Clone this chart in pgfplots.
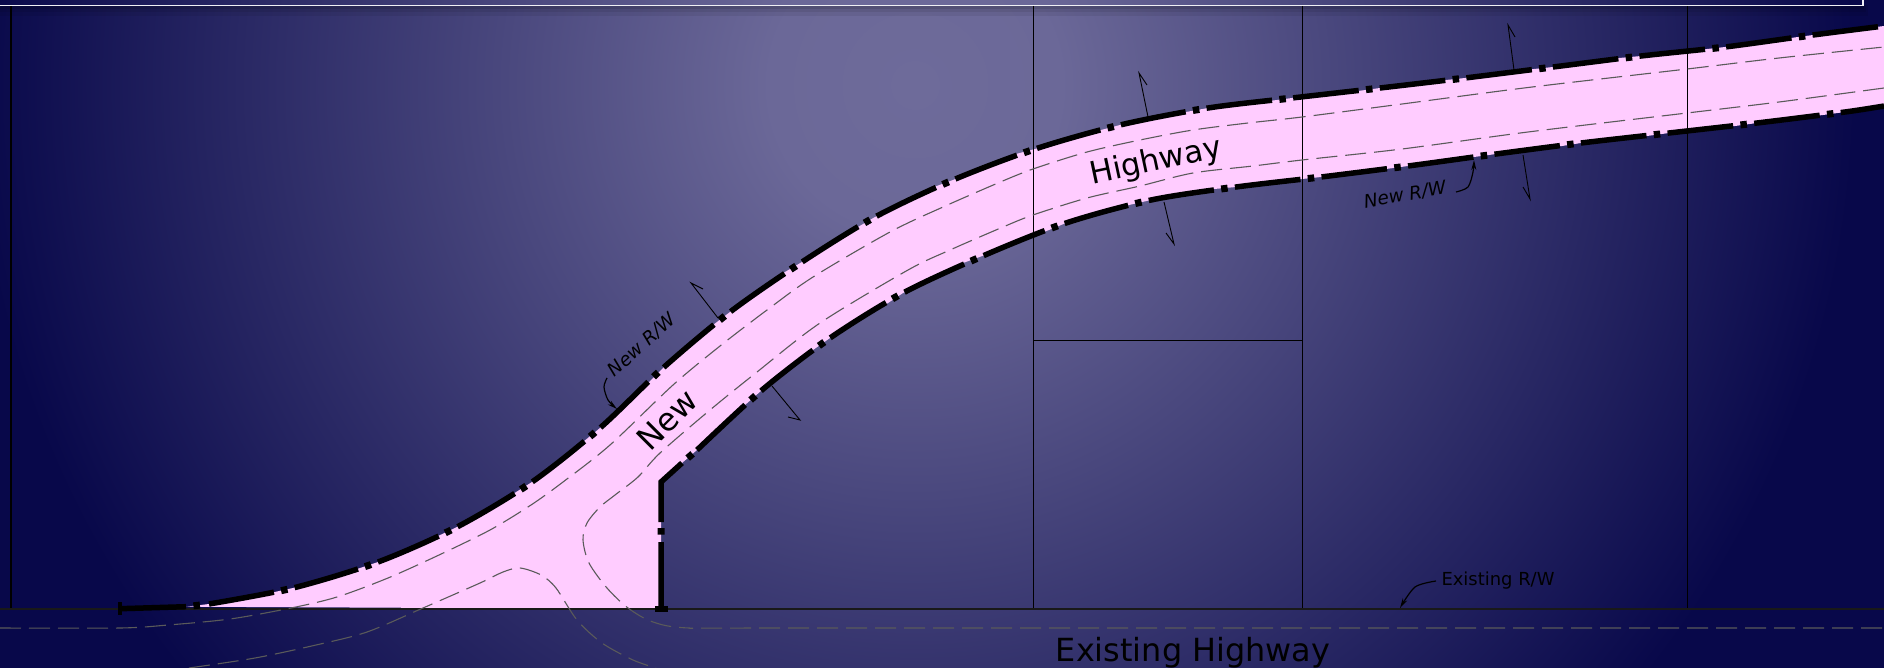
\documentclass[border=0pt]{standalone}
\usepackage{fontspec}
\setmainfont{DejaVu Sans}
\usepackage{pgfplots}
\usepackage{pgfplotstable}
\pgfplotsset{compat=1.18}
\usetikzlibrary{arrows.meta}

\definecolor{bgA}{HTML}{6E6B9A}
\definecolor{bgM}{HTML}{6B6898}
\definecolor{bgB}{HTML}{08084A}
\definecolor{road}{HTML}{FFCCFF}
\definecolor{cl}{HTML}{5A5A5A}
\pgfdeclareradialshading{bgrad}{\pgfpoint{0bp}{0bp}}{color(0bp)=(bgA); color(2.6bp)=(bgM); color(16.8bp)=(bgB); color(50bp)=(bgB)}

% upper and lower new R/W lines, pixel coordinates of the picture
\pgfplotstableread{
x y
209 604
293 588
378 562
457 527
532 482
600 428
663 368
730 312
802 262
875 217
953 180
1035 149
1120 125
1208 108
1292 98
1380 88
1465 78
1553 67
1641 56
1725 47
1813 35
1884 26
}\rwupper

\pgfplotstableread{
x y
697 450
762 390
830 338
903 293
985 255
1066 223
1151 200
1236 187
1321 177
1408 166
1496 154
1581 143
1669 133
1757 123
1845 112
1884 106
}\rwlower

% pieces of the R/W line outside the regular pattern
\pgfplotstableread{
x y
120 608.7
186 606.7
nan nan
661 609
661 542
nan nan
661 522
661 482
682 463
}\rwsolid

% gaps that hold one short block each
\pgfplotstableread{
x y
186 606.7
209 604
nan nan
661 542
661 522
nan nan
682 463
697 450
}\rwgap

\begin{document}
\begin{tikzpicture}
\useasboundingbox (0,0) rectangle (1884bp,668bp);
\begin{axis}[
    at={(0,0)},anchor=south west,
    scale only axis,width=1884bp,height=668bp,
    xmin=0,xmax=1884,ymin=0,ymax=668,y dir=reverse,
    axis lines=none,
    unbounded coords=jump,
    clip=true
]
\shade[shading=bgrad] (axis cs:915,85) circle[radius=1400bp];

% panel at the top and its shadow
\addplot[draw=none,fill=black,fill opacity=.07] coordinates {(0,5) (1868,5) (1868,16) (0,16)} -- cycle;
\addplot[draw=none,fill=black,fill opacity=.08] coordinates {(0,5) (1866,5) (1866,12) (0,12)} -- cycle;
\addplot[draw=none,fill=black,fill opacity=.10] coordinates {(0,5) (1864,5) (1864,9) (0,9)} -- cycle;
\addplot[white!90!bgA,line width=1.2bp] coordinates {(0,5.5) (1863,5.5) (1863,0)};

% road surface
\addplot[draw=none,fill=road] coordinates {
 (186,606.7) (209,604) (270,593) (293,588) (357,569) (378,562) (436,537) (457,527)
 (513,494) (532,482) (583,442) (600,428) (648,383) (663,368) (713,325) (730,312)
 (785,272) (802,262) (858,227) (875,217) (934,187) (953,180) (1016,154) (1035,149)
 (1101,130) (1120,125) (1186,112) (1208,108) (1277,100) (1292,98) (1358,91) (1380,88)
 (1446,80) (1465,78) (1534,69) (1553,67) (1619,58) (1641,56) (1707,49) (1725,47)
 (1798,37) (1813,35) (1884,26)
 (1884,106) (1845,112) (1823,115) (1757,123) (1735,126) (1669,133) (1647,136) (1581,143)
 (1562,146) (1496,154) (1474,157) (1408,166) (1386,169) (1321,177) (1302,179) (1236,187)
 (1214,189) (1151,200) (1129,205) (1066,223) (1044,232) (985,255) (963,263) (903,293)
 (888,303) (830,338) (813,350) (762,390) (745,405) (697,450) (682,463) (661,482) (661,609)
} -- cycle;

% lot lines
\addplot[black,line width=1.2bp] coordinates {(11,6) (11,609)};
\addplot[black,line width=1bp] coordinates {(1033,6) (1033,609)};
\addplot[black,line width=1bp] coordinates {(1302,6) (1302,609)};
\addplot[black,line width=1bp] coordinates {(1687,6) (1687,609)};
\addplot[black,line width=1bp] coordinates {(1033,340) (1302,340)};
\addplot[black!90,line width=1.6bp] coordinates {(0,609) (1884,609)};

% dashed edges of pavement
\tikzset{edge/.style={cl,line width=1.1bp,dash pattern=on 21bp off 8bp}}
\addplot[edge,smooth] coordinates {(0,628) (120,628) (168,625) (230,619) (291,608) (337,597) (388,578) (439,555) (490,530) (531,505) (563,482) (610,445) (673,385) (720,346) (767,310) (813,277) (890,232) (943,207) (998,183) (1033,169) (1087,152) (1140,140) (1193,130) (1248,123) (1302,117) (1402,104) (1528,87.5) (1687,69) (1779,58) (1884,47)};
\addplot[edge,smooth] coordinates {(1884,88) (1779,102) (1687,113) (1528,132) (1402,149) (1302,160) (1253,166) (1193,173) (1140,186) (1087,198) (1033,215) (1003,227) (950,250) (908,270) (820,323) (757,372) (710,410) (660,453) (638,477) (615,495) (600,507) (587,523) (583,540) (589,563) (607,588) (628,608) (653,622) (689,628) (800,628) (1884,628)};
\addplot[edge,smooth] coordinates {(189,668) (255,658) (316,645) (367,632) (423,608) (480,583) (503,572) (520,568) (541,575) (556,588) (577,620) (602,643) (633,660) (656,668)};

% new right of way
\tikzset{
  rwlong/.style={black,line width=5.5bp,smooth,dash pattern=on 66bp off 21.2bp},
  rwblock/.style={black,line width=7bp,smooth,dash pattern=on 0bp off 73.35bp on 6.5bp off 7.35bp}}
\addplot[rwlong] table {\rwupper};
\addplot[rwblock] table {\rwupper};
\addplot[rwlong] table {\rwlower};
\addplot[rwblock] table {\rwlower};
\addplot[black,line width=5.5bp] table {\rwsolid};
\addplot[black,line width=7bp,dash pattern=on 0bp off 7.5bp on 6.5bp off 40bp] table {\rwgap};
\addplot[black,line width=4bp] coordinates {(120,602) (120,615)};
\addplot[black,line width=6bp] coordinates {(655,609) (668,609)};

% width arrows
\addplot[black,line width=.9bp] coordinates {(718,318) (691,283) (703,289)};
\addplot[black,line width=.9bp] coordinates {(772,386) (800,420) (788,417)};
\addplot[black,line width=.9bp] coordinates {(1148,117) (1139,73) (1147,85)};
\addplot[black,line width=.9bp] coordinates {(1164,202) (1174,244) (1166,233)};
\addplot[black,line width=.9bp] coordinates {(1514,70) (1508,25) (1515,37)};
\addplot[black,line width=.9bp] coordinates {(1523,155) (1530,199) (1523,187)};

% leaders
\tikzset{lead/.style={black,line width=1.2bp,smooth,-{Stealth[length=10bp,width=5bp]}}}
\addplot[lead] coordinates {(607,378) (604,387) (608,400) (617,409)};
\addplot[lead] coordinates {(1456,192) (1468,187) (1473,172) (1474,160)};
\addplot[lead] coordinates {(1436,581) (1415,587) (1400,608)};

% labels
\node[rotate=12,font=\fontsize{31}{31}\selectfont] at (axis cs:1156,162) {Highway};
\node[rotate=45,font=\fontsize{32}{32}\selectfont] at (axis cs:667,420) {New};
\node[rotate=42,font=\fontsize{18.5}{18.5}\selectfont\itshape] at (axis cs:642,345) {New R/W};
\node[rotate=10,font=\fontsize{18.5}{18.5}\selectfont\itshape] at (axis cs:1405,195) {New R/W};
\node[font=\fontsize{18}{18}\selectfont] at (axis cs:1498,581) {Existing R/W};
\node[anchor=base,font=\fontsize{32}{32}\selectfont] at (axis cs:1193,661) {Existing Highway};
\end{axis}
\end{tikzpicture}
\end{document}
